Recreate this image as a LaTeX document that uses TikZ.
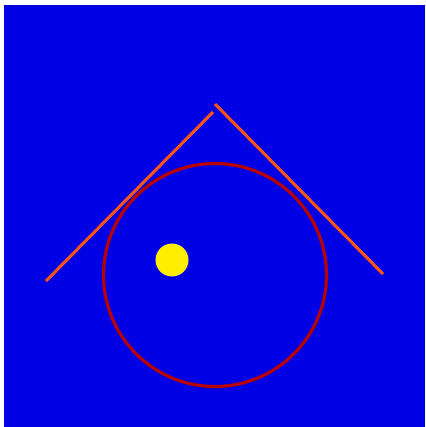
\documentclass[tikz,border=0pt]{standalone}
\usepackage{tikz}

\definecolor{skyblue}{RGB}{0,0,228}
\definecolor{roofline}{RGB}{255,85,20}
\definecolor{ringred}{RGB}{185,0,0}
\definecolor{sunyellow}{RGB}{255,238,0}

\begin{document}
\begin{tikzpicture}[x=1pt,y=-1pt]
\useasboundingbox (0,0) rectangle (425,427);
\fill[skyblue] (4,5) rectangle (425,427);

\coordinate (L1) at (46,281);
\coordinate (L2) at (213,112);
\coordinate (R1) at (215,104);
\coordinate (R2) at (383,274);
\coordinate (C) at (215,275);
\coordinate (S) at (172,260);

\draw[roofline,line width=3pt] (L1)--(L2);
\draw[roofline,line width=3pt] (R1)--(R2);
\draw[ringred,line width=3.2pt] (C) circle (111.5);
\fill[sunyellow] (S) circle (16.5);
\end{tikzpicture}
\end{document}
